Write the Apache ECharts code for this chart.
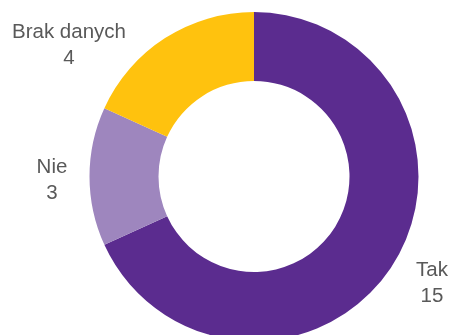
<!DOCTYPE html>
<html>
<head>
<meta charset="utf-8">
<script src="https://cdn.jsdelivr.net/npm/echarts@6/dist/echarts.min.js"></script>
<style>
html,body{margin:0;padding:0;background:#fff;}
#chart{width:453px;height:335px;}
</style>
</head>
<body>
<div id="chart"></div>
<script>
const categories = ['Tak', 'Nie', 'Brak danych'];
const values = [15, 3, 4];
const colors = ['#5B2C8F', '#9E86BE', '#FFC20E'];
const labelPos = [[432, 283], [52, 180], [69, 45]];

const chart = echarts.init(document.getElementById('chart'), null, {renderer: 'canvas'});
chart.setOption({
  animation: false,
  series: [{
    type: 'pie',
    center: [254, 176.5],
    radius: [95.5, 164.5],
    startAngle: 90,
    clockwise: true,
    avoidLabelOverlap: false,
    data: categories.map((c, i) => ({
      name: c, value: values[i], itemStyle: {color: colors[i]}
    })),
    label: {
      show: true,
      position: 'outside',
      formatter: '{b}\n{c}',
      fontFamily: '"Liberation Sans", Arial, sans-serif',
      fontSize: 20.5,
      lineHeight: 26,
      color: '#595959',
      align: 'center'
    },
    labelLine: {show: false},
    labelLayout: function (p) {
      const pos = labelPos[p.dataIndex];
      return {x: pos[0], y: pos[1], align: 'center', verticalAlign: 'middle'};
    },
    emphasis: {disabled: true}
  }]
});
</script>
</body>
</html>
